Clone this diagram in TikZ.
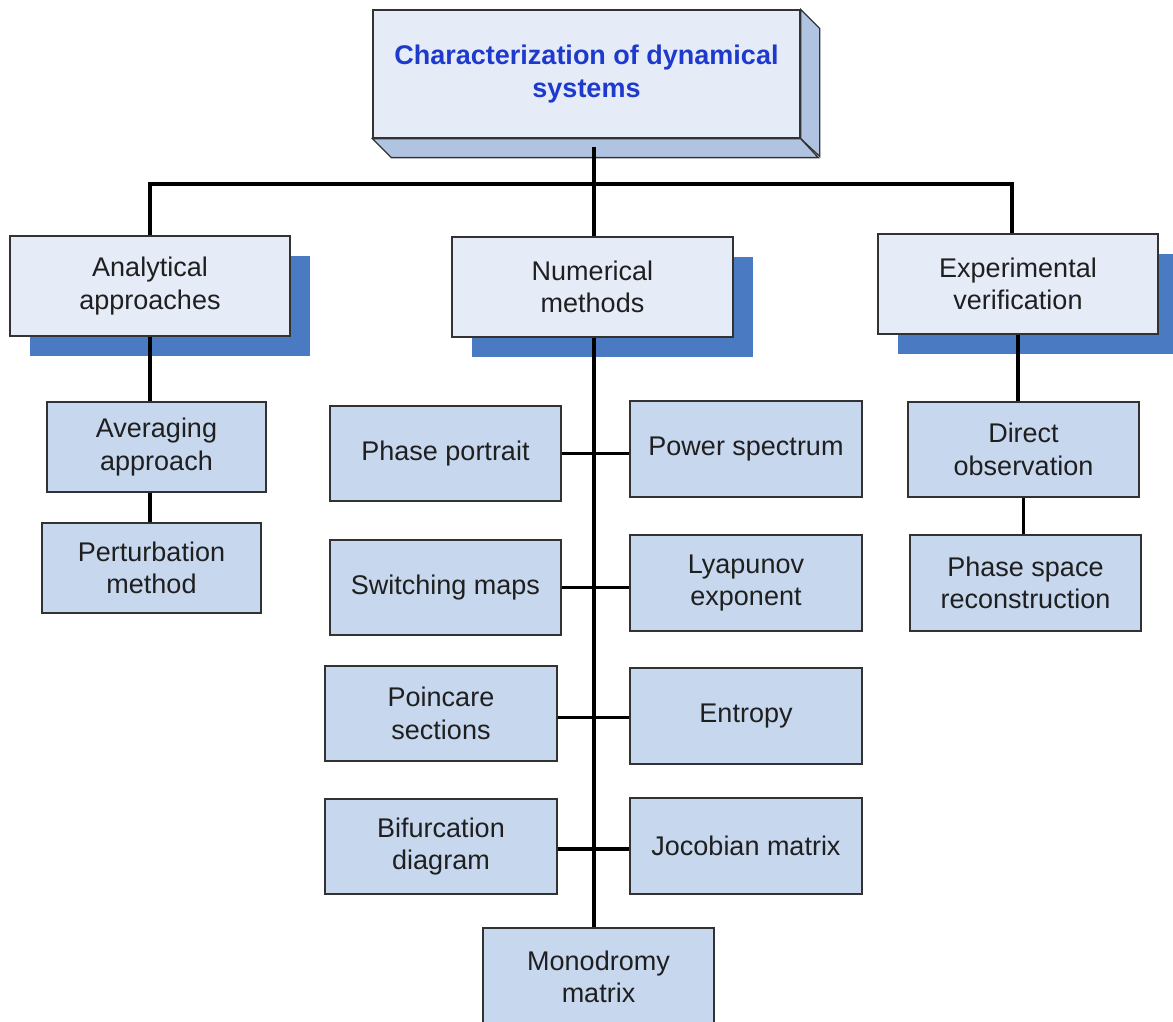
\documentclass[tikz,border=0pt]{standalone}
\usepackage{fontspec}
\setmainfont{Liberation Sans}
\usetikzlibrary{shadows,calc}
\definecolor{paleface}{RGB}{230,236,247}
\definecolor{sideface}{RGB}{176,196,226}
\definecolor{itemfill}{RGB}{198,215,238}
\definecolor{shadowblue}{RGB}{74,122,194}
\definecolor{titleblue}{RGB}{30,58,205}
\definecolor{edgegray}{RGB}{50,50,50}

\begin{document}
\begin{tikzpicture}[x=1pt,y=-1pt,
  box/.style={draw=edgegray, line width=1.3pt, inner sep=0pt, align=center,
    font=\fontsize{27}{32.5}\selectfont, text=black!88},
  item/.style={box, fill=itemfill},
  branch/.style={box, fill=paleface,
    drop shadow={shadow xshift=20pt, shadow yshift=-20pt, fill=shadowblue, opacity=1}},
  face/.style={fill=sideface, draw=edgegray, line width=1.3pt, line join=miter},
  link/.style={line width=3.5pt, black}]

\useasboundingbox (0,0) rectangle (1173,1022);
\clip (0,0) rectangle (1173,1022);

% title block with its 3D sides
\node[box, fill=paleface, minimum width=427pt, minimum height=128pt,
      font=\fontsize{27}{32.5}\selectfont\bfseries, text=titleblue]
      (top) at (586.5,74) {Characterization of dynamical\\systems};
\draw[face] (top.north east) -- ++(19,19) -- ++(0,128) -- (top.south east) -- cycle;
\draw[face] (top.south west) -- ++(19,19) -- ++(427,0) -- (top.south east) -- cycle;

% main branches
\node[branch, minimum width=280pt, minimum height=100pt] (ana) at (150,286) {Analytical\\approaches};
\node[branch, minimum width=281pt, minimum height=100pt] (num) at (592.5,287) {Numerical\\methods};
\node[branch, minimum width=280pt, minimum height=100pt] (exp) at (1018,284) {Experimental\\verification};

% analytical items
\node[item, minimum width=219pt, minimum height=90pt] (avg) at (156.5,447) {Averaging\\approach};
\node[item, minimum width=219pt, minimum height=90pt] (pert) at (151.5,568) {Perturbation\\method};

% experimental items
\node[item, minimum width=231pt, minimum height=95pt] (dir) at (1023.5,449.5) {Direct\\observation};
\node[item, minimum width=231pt, minimum height=96pt] (psr) at (1025.5,583) {Phase space\\reconstruction};

% numerical items
\node[item, minimum width=231pt, minimum height=95pt] (phase) at (445.5,453.5) {Phase portrait};
\node[item, minimum width=232pt, minimum height=96pt] (power) at (746,449) {Power spectrum};
\node[item, minimum width=231pt, minimum height=95pt] (switch) at (445.5,587.5) {Switching maps};
\node[item, minimum width=232pt, minimum height=96pt] (lyap) at (746,583) {Lyapunov\\exponent};
\node[item, minimum width=232pt, minimum height=95pt] (poinc) at (441,713.5) {Poincare\\sections};
\node[item, minimum width=232pt, minimum height=96pt] (entropy) at (746,716) {Entropy};
\node[item, minimum width=232pt, minimum height=95pt] (bif) at (441,846.5) {Bifurcation\\diagram};
\node[item, minimum width=232pt, minimum height=96pt] (jac) at (746,846) {Jocobian matrix};
\node[item, minimum width=231pt, minimum height=98pt] (mono) at (598.5,977) {Monodromy\\matrix};

% bus below the title
\coordinate (busC) at (594,184);
\coordinate (busL) at (150,184);
\coordinate (busR) at (1012,184);
\coordinate (trunk) at (594,0);

\draw[link] (busC) -- ++(0,-37);
\draw[link] (busL |- ana.north) -- (busL) -- (busR) -- (busR |- exp.north);
\draw[link] (busC) -- (busC |- num.north);

% analytical chain
\draw[link] (ana.south) -- (ana.south |- avg.north);
\draw[link] (avg.south -| ana.south) -- (pert.north -| ana.south);

% experimental chain
\draw[link] (exp.south) -- (exp.south |- dir.north);
\draw[link] (dir.south) -- (dir.south |- psr.north);

% numerical trunk and its side branches
\draw[link] (num.south -| trunk) -- (mono.north -| trunk);
\draw[link] (phase.east) -- (phase.east -| power.west);
\draw[link] (switch.east) -- (switch.east -| lyap.west);
\draw[link] ([yshift=-4pt]poinc.east) -- ([yshift=-4pt]poinc.east -| entropy.west);
\draw[link] ([yshift=-2.5pt]bif.east) -- ([yshift=-2.5pt]bif.east -| jac.west);
\end{tikzpicture}
\end{document}
